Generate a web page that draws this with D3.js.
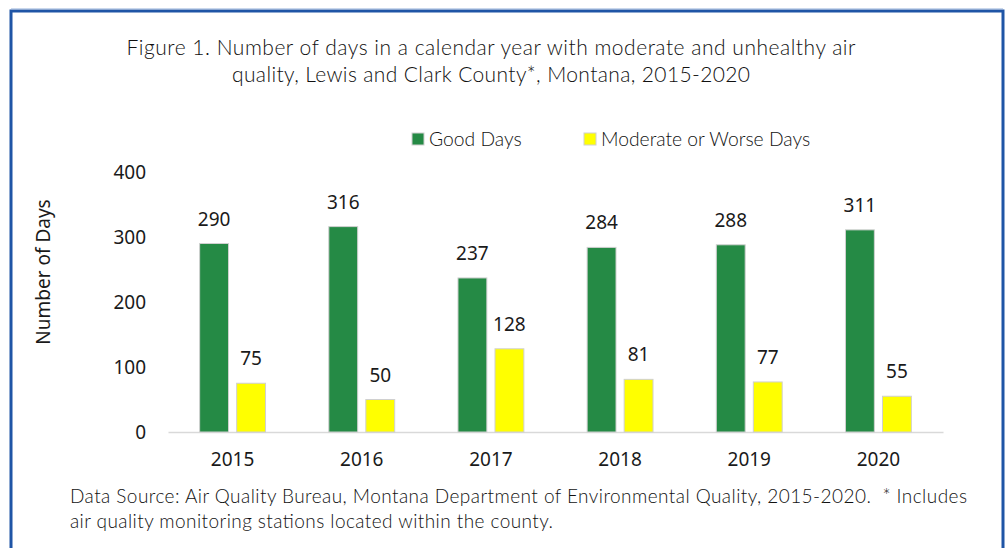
<!DOCTYPE html>
<html>
<head>
<meta charset="utf-8">
<script src="https://cdn.jsdelivr.net/npm/d3@7"></script>
<style>
  html, body { margin: 0; padding: 0; background: #ffffff; }
  svg { display: block; }
  text { white-space: pre; }
</style>
</head>
<body>
<script>
// Air quality day counts by year, Lewis and Clark County
const years = ["2015", "2016", "2017", "2018", "2019", "2020"];
const goodDays = [290, 316, 237, 284, 288, 311];
const moderateDays = [75, 50, 128, 81, 77, 55];
const seriesNames = ["Good Days", "Moderate or Worse Days"];
const yTicks = [0, 100, 200, 300, 400];
const titleLines = [
  "Figure 1. Number of days in a calendar year with moderate and unhealthy air",
  "quality, Lewis and Clark County*, Montana, 2015-2020"
];
const footerLines = [
  "Data Source: Air Quality Bureau, Montana Department of Environmental Quality, 2015-2020.  * Includes",
  "air quality monitoring stations located within the county."
];

const W = 1006, H = 548;
const seriesKeys = ["good", "moderate"];
const fills = { good: "#258a45", moderate: "#ffff00" };
const rows = years.map((y, i) => ({ year: y, good: goodDays[i], moderate: moderateDays[i] }));

const svg = d3.select("body").append("svg").attr("width", W).attr("height", H);

// frame
svg.append("rect").attr("x", 0).attr("y", 0).attr("width", W).attr("height", H).attr("fill", "#fff");
svg.append("line").attr("x1", 11).attr("x2", 1003).attr("y1", 8.5).attr("y2", 8.5)
  .attr("stroke", "#c9d7ec").attr("stroke-width", 1);
svg.append("path")
  .attr("d", `M11,${H + 5} L11,11 L1003,11 L1003,${H + 5}`)
  .attr("fill", "none").attr("stroke", "#1f55a6").attr("stroke-width", 3);

const titleFont = "Lato, 'Open Sans', sans-serif";
const numFont = "'Noto Sans', 'Open Sans', sans-serif";

// fit a text line to a given width by letter spacing
function fitWidth(sel, widths) {
  sel.each(function (d, i) {
    this.setAttribute("textLength", widths[i]);
    this.setAttribute("lengthAdjust", "spacing");
  });
}

// title
svg.append("g").selectAll("text").data(titleLines).join("text")
  .attr("x", 491).attr("y", (d, i) => 55 + i * 27)
  .attr("text-anchor", "middle")
  .attr("font-family", titleFont).attr("font-weight", 300).attr("font-size", 21).attr("fill", "#111")
  .text(d => d)
  .call(fitWidth, [729, 518]);

// scales
const x0 = d3.scaleBand().domain(years).range([168, 943]).paddingInner(0.49).paddingOuter(0.245);
const x1 = d3.scaleBand().domain(seriesKeys).range([0, x0.bandwidth()]).paddingInner(0.22);
const y = d3.scaleLinear().domain([0, 400]).range([432, 172]);

// y axis ticks (no line)
const yAxis = d3.axisLeft(y).tickValues(yTicks).tickSize(0).tickPadding(0);
const gy = svg.append("g").attr("transform", "translate(146,0)").call(yAxis);
gy.select(".domain").remove();
gy.selectAll("text").attr("font-family", numFont).attr("font-size", 19).attr("fill", "#1a1a1a").attr("dy", "0.34em");

// baseline and year labels
const xAxis = d3.axisBottom(x0).tickSize(0).tickPadding(21);
const gx = svg.append("g").attr("transform", `translate(0,${y(0)})`).call(xAxis);
gx.select(".domain").attr("stroke", "#d9d9d9").attr("stroke-width", 1.5);
gx.selectAll("text").attr("font-family", numFont).attr("font-size", 19).attr("fill", "#1a1a1a");

// bars
const groups = svg.append("g").selectAll("g").data(rows).join("g")
  .attr("transform", d => `translate(${x0(d.year)},0)`);
groups.selectAll("rect").data(d => seriesKeys.map(k => ({ key: k, value: d[k] }))).join("rect")
  .attr("x", d => x1(d.key))
  .attr("y", d => y(d.value))
  .attr("width", x1.bandwidth())
  .attr("height", d => y(0) - y(d.value))
  .attr("fill", d => fills[d.key])
  .attr("stroke", "#d0d0d0").attr("stroke-width", 1);
groups.selectAll("text.val").data(d => seriesKeys.map(k => ({ key: k, value: d[k] }))).join("text")
  .attr("class", "val")
  .attr("x", d => x1(d.key) + x1.bandwidth() / 2)
  .attr("y", d => y(d.value) - 18)
  .attr("text-anchor", "middle")
  .attr("font-family", numFont).attr("font-size", 19).attr("fill", "#1a1a1a")
  .text(d => d.value);

// y axis title
svg.append("text")
  .attr("transform", "translate(50,272) rotate(-90)")
  .attr("text-anchor", "middle")
  .attr("font-family", numFont).attr("font-size", 19).attr("fill", "#1a1a1a")
  .text("Number of Days");

// legend
const legendX = [412, 584];
const lg = svg.append("g").selectAll("g").data(seriesKeys).join("g")
  .attr("transform", (d, i) => `translate(${legendX[i]},133)`);
lg.append("rect").attr("width", 12).attr("height", 12)
  .attr("fill", d => fills[d]).attr("stroke", "#d0d0d0").attr("stroke-width", 1);
lg.append("text").attr("x", 17).attr("y", 12.5)
  .attr("font-family", titleFont).attr("font-weight", 300).attr("font-size", 19.3).attr("fill", "#111")
  .text((d, i) => seriesNames[i]);

// footer
svg.append("g").selectAll("text").data(footerLines).join("text")
  .attr("x", 70).attr("y", (d, i) => 503 + i * 25)
  .attr("font-family", titleFont).attr("font-weight", 300).attr("font-size", 19).attr("fill", "#111")
  .text(d => d)
  .call(fitWidth, [897, 483]);
</script>
</body>
</html>
